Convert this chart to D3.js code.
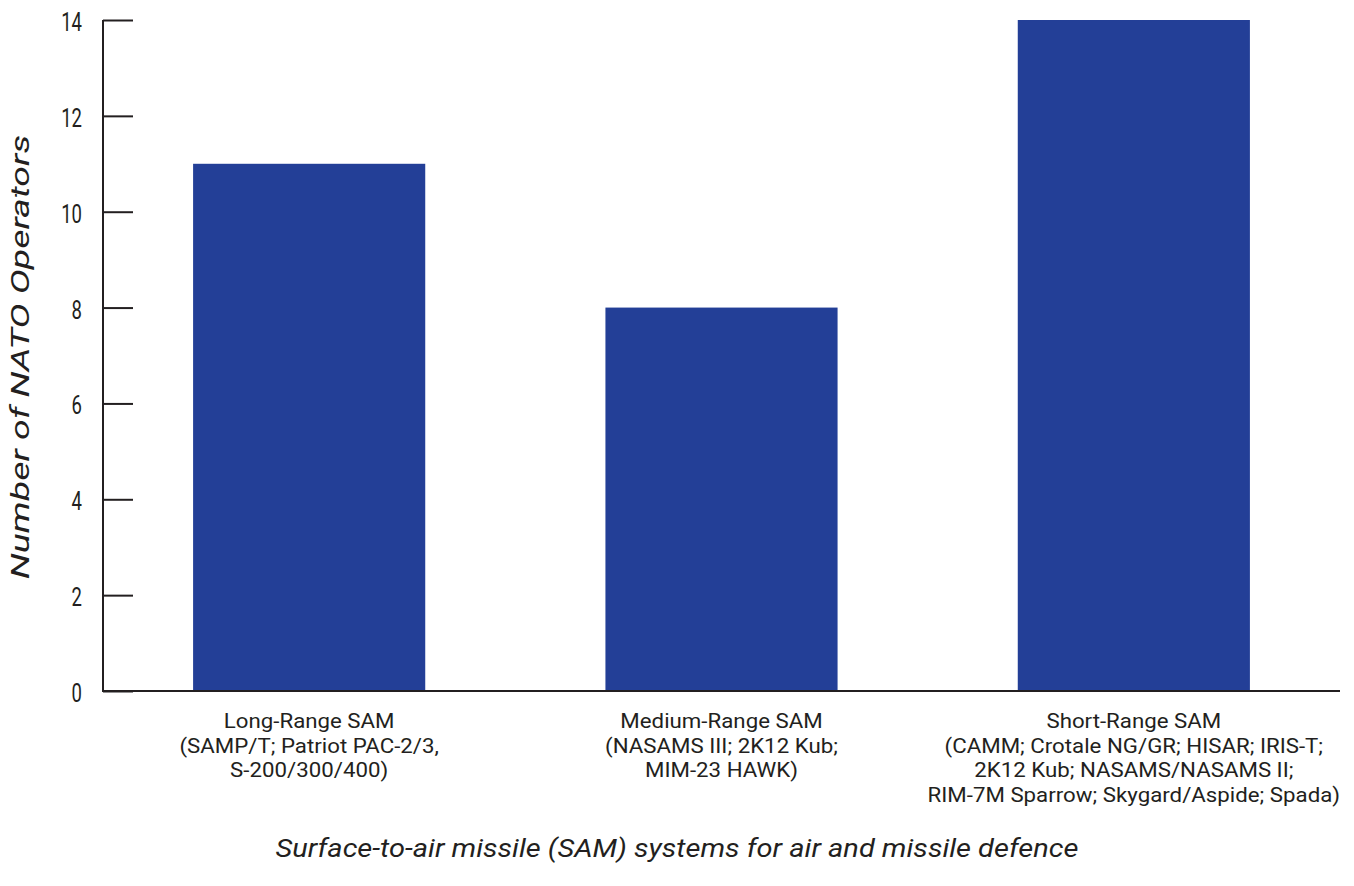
<!DOCTYPE html>
<html><head><meta charset="utf-8">
<script src="https://cdn.jsdelivr.net/npm/d3@7"></script>
<style>
body{margin:0;background:#fff;}
text{font-family:"Roboto","Liberation Sans",sans-serif;fill:#231f20;}
</style></head>
<body><svg id="c" width="1354" height="886"></svg>
<script>
const categories = ["Long-Range SAM","Medium-Range SAM","Short-Range SAM"];
const subLabels = [
  ["(SAMP/T; Patriot PAC-2/3,","S-200/300/400)"],
  ["(NASAMS III; 2K12 Kub;","MIM-23 HAWK)"],
  ["(CAMM; Crotale NG/GR; HISAR; IRIS-T;","2K12 Kub; NASAMS/NASAMS II;","RIM-7M Sparrow; Skygard/Aspide; Spada)"]
];
const values = [11, 8, 14];
const yTicks = [0,2,4,6,8,10,12,14];
const yTitle = "Number of NATO Operators";
const xTitle = "Surface-to-air missile (SAM) systems for air and missile defence";

const svg = d3.select("#c");
const m = {l:103, r:1340, t:20, b:691};
const x = d3.scaleBand().domain(categories).range([m.l, m.r]).paddingInner(0.437).paddingOuter(0.2185);
const y = d3.scaleLinear().domain([0,14]).range([m.b, m.t]);

function condense(sel, k){
  sel.each(function(){
    const len = this.getComputedTextLength();
    d3.select(this).attr("textLength", len*k).attr("lengthAdjust","spacingAndGlyphs");
  });
}

// bars
svg.selectAll("rect.bar").data(values).join("rect")
  .attr("x",(d,i)=>x(categories[i])).attr("y",d=>y(d))
  .attr("width",x.bandwidth()).attr("height",d=>y(0)-y(d))
  .attr("fill","#233f97");

// y axis
const ya = svg.append("g").attr("transform",`translate(${m.l},0)`)
  .call(d3.axisRight(y).tickValues(yTicks).tickSize(30).tickFormat(d3.format("d")));
ya.select(".domain").attr("stroke","#231f20").attr("stroke-width",2).attr("d",`M0,${m.t}V${m.b}`);
ya.selectAll(".tick line").attr("stroke","#231f20").attr("stroke-width",2);
ya.selectAll(".tick text").attr("x",-21).attr("text-anchor","end").attr("dy","0.42em")
  .style("font-size","25px").attr("fill","#231f20");
condense(ya.selectAll(".tick text"), 0.74);
ya.raise();

// x axis line
svg.append("line").attr("x1",m.l-1).attr("x2",m.r).attr("y1",m.b).attr("y2",m.b)
  .attr("stroke","#231f20").attr("stroke-width",2);

// category labels
categories.forEach((c,i)=>{
  const cx = x(c)+x.bandwidth()/2;
  const lines = [c].concat(subLabels[i]);
  lines.forEach((s,j)=>{
    const t = svg.append("text").attr("x",cx).attr("y",728 + j*24.7)
      .attr("text-anchor","middle").style("font-size","21px").text(s);
    condense(t, 1.06);
  });
});

// titles
const tt = svg.append("text").attr("x",677).attr("y",857).attr("text-anchor","middle")
  .style("font-size","25px").style("font-style","italic").text(xTitle);
condense(tt, 1.16);
const yt = svg.append("text").attr("transform","translate(29,357) rotate(-90)").attr("text-anchor","middle")
  .style("font-size","25px").style("font-style","italic").text(yTitle);
condense(yt, 1.5);
</script></body></html>
